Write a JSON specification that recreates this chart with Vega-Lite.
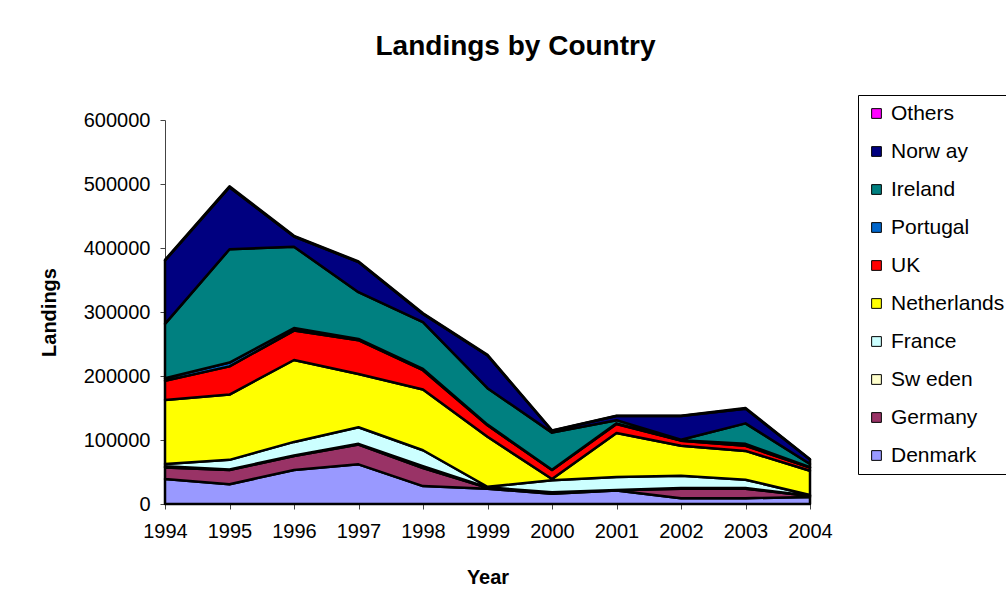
{
  "$schema": "https://vega.github.io/schema/vega-lite/v6.json",
  "autosize": "none",
  "width": 645,
  "height": 384,
  "padding": {"left": 165, "top": 120, "right": 196, "bottom": 112},
  "background": "white",
  "config": {
    "font": "Liberation Sans",
    "view": {"stroke": null},
    "axis": {"grid": false, "domainColor": "#444", "tickColor": "#444", "labelColor": "#000", "titleColor": "#000", "labelFont": "Liberation Sans", "titleFont": "Liberation Sans", "labelFontSize": 20, "titleFontSize": 20, "titleFontWeight": "bold", "tickSize": 5, "labelFontWeight": "normal"}
  },
  "title": {"text": "Landings by Country", "fontSize": 28, "fontWeight": "bold", "font": "Liberation Sans", "color": "#000", "anchor": "middle", "dx": 28, "offset": 34},
  "data": {"values": [
    {"year": 1994, "country": "Denmark", "landings": 39000}, {"year": 1994, "country": "Germany", "landings": 18000}, {"year": 1994, "country": "Sw eden", "landings": 2000}, {"year": 1994, "country": "France", "landings": 3500}, {"year": 1994, "country": "Netherlands", "landings": 100000}, {"year": 1994, "country": "UK", "landings": 30000}, {"year": 1994, "country": "Portugal", "landings": 4000}, {"year": 1994, "country": "Ireland", "landings": 85000}, {"year": 1994, "country": "Norw ay", "landings": 99000}, {"year": 1994, "country": "Others", "landings": 1000},
    {"year": 1995, "country": "Denmark", "landings": 31000}, {"year": 1995, "country": "Germany", "landings": 22000}, {"year": 1995, "country": "Sw eden", "landings": 1000}, {"year": 1995, "country": "France", "landings": 15000}, {"year": 1995, "country": "Netherlands", "landings": 102000}, {"year": 1995, "country": "UK", "landings": 44000}, {"year": 1995, "country": "Portugal", "landings": 6000}, {"year": 1995, "country": "Ireland", "landings": 177000}, {"year": 1995, "country": "Norw ay", "landings": 97000}, {"year": 1995, "country": "Others", "landings": 1500},
    {"year": 1996, "country": "Denmark", "landings": 53000}, {"year": 1996, "country": "Germany", "landings": 22000}, {"year": 1996, "country": "Sw eden", "landings": 1000}, {"year": 1996, "country": "France", "landings": 21000}, {"year": 1996, "country": "Netherlands", "landings": 128000}, {"year": 1996, "country": "UK", "landings": 46000}, {"year": 1996, "country": "Portugal", "landings": 4000}, {"year": 1996, "country": "Ireland", "landings": 127000}, {"year": 1996, "country": "Norw ay", "landings": 16000}, {"year": 1996, "country": "Others", "landings": 1000},
    {"year": 1997, "country": "Denmark", "landings": 62000}, {"year": 1997, "country": "Germany", "landings": 31000}, {"year": 1997, "country": "Sw eden", "landings": 1000}, {"year": 1997, "country": "France", "landings": 26000}, {"year": 1997, "country": "Netherlands", "landings": 83000}, {"year": 1997, "country": "UK", "landings": 53000}, {"year": 1997, "country": "Portugal", "landings": 2000}, {"year": 1997, "country": "Ireland", "landings": 73000}, {"year": 1997, "country": "Norw ay", "landings": 47000}, {"year": 1997, "country": "Others", "landings": 1000},
    {"year": 1998, "country": "Denmark", "landings": 28000}, {"year": 1998, "country": "Germany", "landings": 28000}, {"year": 1998, "country": "Sw eden", "landings": 3000}, {"year": 1998, "country": "France", "landings": 25000}, {"year": 1998, "country": "Netherlands", "landings": 95000}, {"year": 1998, "country": "UK", "landings": 30000}, {"year": 1998, "country": "Portugal", "landings": 2000}, {"year": 1998, "country": "Ireland", "landings": 73000}, {"year": 1998, "country": "Norw ay", "landings": 13000}, {"year": 1998, "country": "Others", "landings": 1000},
    {"year": 1999, "country": "Denmark", "landings": 24000}, {"year": 1999, "country": "Germany", "landings": 1500}, {"year": 1999, "country": "Sw eden", "landings": 500}, {"year": 1999, "country": "France", "landings": 1000}, {"year": 1999, "country": "Netherlands", "landings": 78000}, {"year": 1999, "country": "UK", "landings": 18000}, {"year": 1999, "country": "Portugal", "landings": 1000}, {"year": 1999, "country": "Ireland", "landings": 57000}, {"year": 1999, "country": "Norw ay", "landings": 51000}, {"year": 1999, "country": "Others", "landings": 1000},
    {"year": 2000, "country": "Denmark", "landings": 16000}, {"year": 2000, "country": "Germany", "landings": 2000}, {"year": 2000, "country": "Sw eden", "landings": 500}, {"year": 2000, "country": "France", "landings": 18500}, {"year": 2000, "country": "Netherlands", "landings": 2000}, {"year": 2000, "country": "UK", "landings": 14000}, {"year": 2000, "country": "Portugal", "landings": 500}, {"year": 2000, "country": "Ireland", "landings": 58000}, {"year": 2000, "country": "Norw ay", "landings": 3000}, {"year": 2000, "country": "Others", "landings": 500},
    {"year": 2001, "country": "Denmark", "landings": 21000}, {"year": 2001, "country": "Germany", "landings": 500}, {"year": 2001, "country": "Sw eden", "landings": 500}, {"year": 2001, "country": "France", "landings": 20000}, {"year": 2001, "country": "Netherlands", "landings": 69000}, {"year": 2001, "country": "UK", "landings": 14000}, {"year": 2001, "country": "Portugal", "landings": 1000}, {"year": 2001, "country": "Ireland", "landings": 5000}, {"year": 2001, "country": "Norw ay", "landings": 6500}, {"year": 2001, "country": "Others", "landings": 500},
    {"year": 2002, "country": "Denmark", "landings": 9000}, {"year": 2002, "country": "Germany", "landings": 15000}, {"year": 2002, "country": "Sw eden", "landings": 1000}, {"year": 2002, "country": "France", "landings": 19000}, {"year": 2002, "country": "Netherlands", "landings": 47000}, {"year": 2002, "country": "UK", "landings": 8000}, {"year": 2002, "country": "Portugal", "landings": 500}, {"year": 2002, "country": "Ireland", "landings": 1000}, {"year": 2002, "country": "Norw ay", "landings": 37000}, {"year": 2002, "country": "Others", "landings": 500},
    {"year": 2003, "country": "Denmark", "landings": 9000}, {"year": 2003, "country": "Germany", "landings": 15000}, {"year": 2003, "country": "Sw eden", "landings": 1000}, {"year": 2003, "country": "France", "landings": 13000}, {"year": 2003, "country": "Netherlands", "landings": 45000}, {"year": 2003, "country": "UK", "landings": 8000}, {"year": 2003, "country": "Portugal", "landings": 3000}, {"year": 2003, "country": "Ireland", "landings": 32000}, {"year": 2003, "country": "Norw ay", "landings": 23000}, {"year": 2003, "country": "Others", "landings": 1000},
    {"year": 2004, "country": "Denmark", "landings": 11000}, {"year": 2004, "country": "Germany", "landings": 1500}, {"year": 2004, "country": "Sw eden", "landings": 500}, {"year": 2004, "country": "France", "landings": 1000}, {"year": 2004, "country": "Netherlands", "landings": 38000}, {"year": 2004, "country": "UK", "landings": 5000}, {"year": 2004, "country": "Portugal", "landings": 500}, {"year": 2004, "country": "Ireland", "landings": 5000}, {"year": 2004, "country": "Norw ay", "landings": 7000}, {"year": 2004, "country": "Others", "landings": 500}
  ]},
  "transform": [
    {"calculate": "indexof(['Denmark', 'Germany', 'Sw eden', 'France', 'Netherlands', 'UK', 'Portugal', 'Ireland', 'Norw ay', 'Others'], datum.country)", "as": "stackOrder"}
  ],
  "mark": {"type": "area", "stroke": "#000", "strokeWidth": 2.5, "strokeJoin": "round", "opacity": 1},
  "encoding": {
    "x": {"field": "year", "type": "ordinal", "scale": {"type": "point", "padding": 0}, "axis": {"labelAngle": 0, "title": "Year", "labelPadding": 12, "titlePadding": 26}},
    "y": {"field": "landings", "type": "quantitative", "stack": "zero", "scale": {"domain": [0, 600000]}, "axis": {"title": "Landings", "values": [0, 100000, 200000, 300000, 400000, 500000, 600000], "format": "d", "labelPadding": 10, "titlePadding": 24}},
    "order": {"field": "stackOrder", "type": "quantitative", "sort": "ascending"},
    "color": {
      "field": "country", "type": "nominal",
      "scale": {"domain": ["Denmark", "Germany", "Sw eden", "France", "Netherlands", "UK", "Portugal", "Ireland", "Norw ay", "Others"], "range": ["#9999FF", "#993366", "#FFFFCC", "#CCFFFF", "#FFFF00", "#FF0000", "#0066CC", "#008080", "#000080", "#FF00FF"]},
      "legend": {
        "title": null,
        "values": ["Others", "Norw ay", "Ireland", "Portugal", "UK", "Netherlands", "France", "Sw eden", "Germany", "Denmark"],
        "orient": "none", "legendX": 693, "legendY": -25,
        "symbolType": "square", "symbolSize": 95, "symbolStrokeColor": "#000", "symbolStrokeWidth": 1, "symbolOpacity": 1,
        "labelFontSize": 21, "labelFont": "Liberation Sans", "labelColor": "#000", "labelOffset": 4, "labelLimit": 300,
        "rowPadding": 16, "padding": 8, "strokeColor": "#000", "fillColor": "#fff"
      }
    }
  }
}
